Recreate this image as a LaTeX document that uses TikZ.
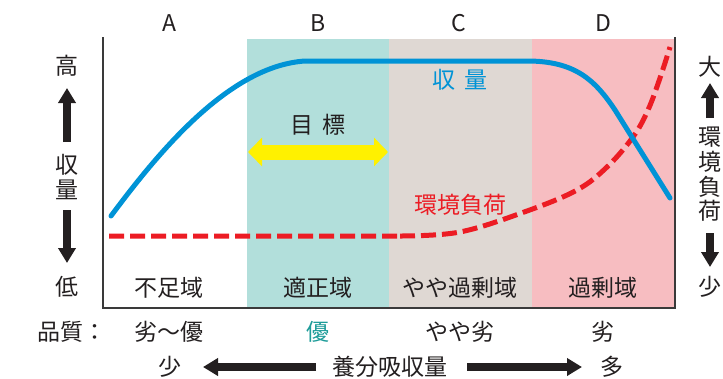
\documentclass[tikz,border=0pt]{standalone}
\usepackage{fontspec}
\setmainfont{Noto Sans CJK JP}
\usetikzlibrary{arrows.meta}
\definecolor{tealbg}{HTML}{B2DFDB}
\definecolor{graybg}{HTML}{DFD8D3}
\definecolor{pinkbg}{HTML}{F7BDC1}
\definecolor{curveblue}{HTML}{0093D6}
\definecolor{curvered}{HTML}{EC1C24}
\definecolor{arrowyellow}{HTML}{FFF100}
\definecolor{ink}{HTML}{231F20}
\definecolor{tealtext}{HTML}{1E9C99}
\definecolor{framegray}{HTML}{3A3A3A}
\tikzset{
  lbl/.style={font=\fontsize{23}{27}\selectfont, text=ink, inner sep=0pt},
  bigarrow/.style={line width=8pt, draw=ink, -{Triangle[width=17pt,length=15pt]}},
  yieldline/.style={line width=5pt, draw=curveblue, line cap=round},
  loadline/.style={line width=5pt, draw=curvered, dash pattern=on 15pt off 6pt},
  goalarrow/.style={line width=15pt, draw=arrowyellow, {Triangle[width=28pt,length=14pt]}-{Triangle[width=28pt,length=14pt]}},
  framestyle/.style={line width=1.3pt, draw=framegray}
}
\begin{document}
\begin{tikzpicture}[x=1pt,y=-1pt]
\useasboundingbox (0,0) rectangle (723,378);
% regions
\fill[tealbg] (247,39) rectangle (389,308);
\fill[graybg] (389,39) rectangle (532,308);
\fill[pinkbg] (532,39) rectangle (675,308);
% curves
\draw[loadline] (109,236) -- (400,236) plot[smooth, tension=0.6] coordinates {(400,236) (460,232) (527,211) (577,190) (607,167) (633,137) (648,110) (660,78) (670,47)};
\draw[yieldline] (111,216) .. controls (160,150) and (230,66) .. (305,61) -- (527,61) .. controls (575,61) and (595,80) .. (615,110) -- (670,198);
% goal arrow
\coordinate (gl) at (248,152);
\coordinate (gr) at (388,152);
\draw[goalarrow] (gl) -- (gr);
% frame
\draw[framestyle] (103,37) -- (103,308) -- (675,308) -- (675,37);
% column letters
\node[lbl] (colA) at (169,23) {A};
\node[lbl] (colB) at (318,23) {B};
\node[lbl] (colC) at (459,23) {C};
\node[lbl] (colD) at (603,23) {D};
% curve labels
\node[lbl, text=curveblue] (yieldlbl) at (460,80) {収\hspace{0.35em}量};
\node[lbl, text=curvered] (loadlbl) at (460,205) {環境負荷};
\node[lbl] (goallbl) at (318,125) {目\hspace{0.35em}標};
% left axis
\node[lbl] (lhi) at (67,66) {高};
\node[lbl] (ly1) at (67,165) {収};
\node[lbl] (ly2) at (67,190) {量};
\node[lbl] (llo) at (67,287) {低};
\coordinate (lua) at (67,142);
\coordinate (lub) at (67,88);
\coordinate (lda) at (67,210);
\coordinate (ldb) at (67,263);
\draw[bigarrow] (lua) -- (lub);
\draw[bigarrow] (lda) -- (ldb);
% right axis
\node[lbl] (rhi) at (710,67) {大};
\node[lbl] (rl1) at (710,137) {環};
\node[lbl] (rl2) at (710,162) {境};
\node[lbl] (rl3) at (710,187) {負};
\node[lbl] (rl4) at (710,211) {荷};
\node[lbl] (rlo) at (710,287) {少};
\coordinate (rua) at (710,118);
\coordinate (rub) at (710,83);
\coordinate (rda) at (710,233);
\coordinate (rdb) at (710,267);
\draw[bigarrow] (rua) -- (rub);
\draw[bigarrow] (rda) -- (rdb);
% region names
\node[lbl] (zA) at (169,288) {不足域};
\node[lbl] (zB) at (318,288) {適正域};
\node[lbl] (zC) at (460,288) {やや過剰域};
\node[lbl] (zD) at (603,288) {過剰域};
% quality row
\node[lbl, anchor=west] (qlbl) at (37,332) {品質：};
\node[lbl] (qA) at (169,332) {劣〜優};
\node[lbl, text=tealtext] (qB) at (318,332) {優};
\node[lbl] (qC) at (460,332) {やや劣};
\node[lbl] (qD) at (603,332) {劣};
% bottom row
\node[lbl] (few) at (170,367) {少};
\node[lbl] (uptake) at (390,367) {養分吸収量};
\node[lbl] (many) at (612,367) {多};
\coordinate (bla) at (316,367);
\coordinate (blb) at (203,367);
\coordinate (bra) at (467,367);
\coordinate (brb) at (582,367);
\draw[bigarrow] (bla) -- (blb);
\draw[bigarrow] (bra) -- (brb);
\end{tikzpicture}
\end{document}
